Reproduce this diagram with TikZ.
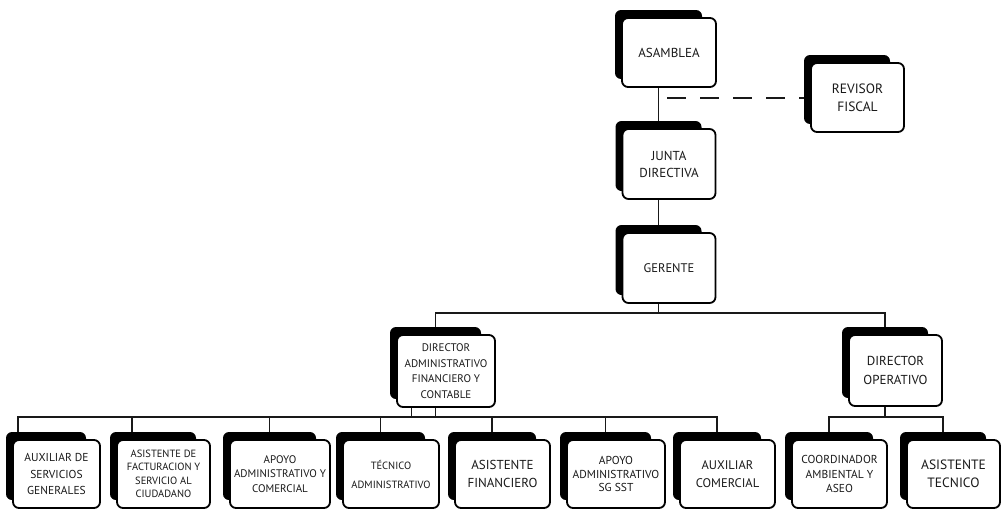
\documentclass[tikz,border=0pt]{standalone}
\usepackage{fontspec}
\setmainfont{PT Sans}
\usetikzlibrary{backgrounds}
\tikzset{
  front/.style={draw=black, line width=1.8pt, fill=white, rounded corners=6pt,
    align=center, inner sep=1pt, text=black!90},
  shade/.style={fill=black, rounded corners=6pt, draw=none, inner sep=0pt},
  link/.style={line width=1.6pt, draw=black!90},
  dashlink/.style={link, dash pattern=on 19pt off 14pt},
}
% name, cx, cy, w, h, font, text
\newcommand\orgbox[7]{%
  \node[shade, minimum width=#4pt-7pt, minimum height=#5pt] (#1s) at (#2-10.5,#3-8) {};
  \node[front, minimum width=#4pt, minimum height=#5pt, font={#6}] (#1) at (#2,#3) {#7};
}
\newcommand\fsz[2]{\fontsize{#1pt}{#2pt}\selectfont}
\begin{document}
\begin{tikzpicture}[x=1pt,y=-1pt]
\useasboundingbox (0,0) rectangle (1003,509);
\orgbox{asam}{669}{52.5}{94}{69}{\fsz{13}{15}}{ASAMBLEA}
\orgbox{rev}{857.5}{97.5}{93}{69}{\fsz{13.5}{18}}{REVISOR\\FISCAL}
\orgbox{junta}{669}{164}{93}{70}{\fsz{13}{17}}{JUNTA\\DIRECTIVA}
\orgbox{ger}{669}{268}{93}{70}{\fsz{12.5}{15}}{GERENTE}
\orgbox{da}{446}{371}{98}{72}{\fsz{11}{15.5}}{DIRECTOR\\ADMINISTRATIVO\\FINANCIERO Y\\CONTABLE}
\orgbox{do}{895.5}{370.5}{93}{71}{\fsz{13}{19}}{DIRECTOR\\OPERATIVO}
\orgbox{bA}{56.5}{474}{87}{68}{\fsz{11.5}{16.5}}{AUXILIAR DE\\SERVICIOS\\GENERALES}
\orgbox{bB}{163.5}{474}{93}{68}{\fsz{10.5}{13.5}}{ASISTENTE DE\\FACTURACION Y\\SERVICIO AL\\CIUDADANO}
\orgbox{bC}{280}{474}{100}{68}{\fsz{11}{14.5}}{APOYO\\ADMINISTRATIVO Y\\COMERCIAL}
\orgbox{bD}{391}{474}{96}{68}{\fsz{10.5}{19}}{TÉCNICO\\ADMINISTRATIVO}
\orgbox{bE}{502.5}{474}{95}{68}{\fsz{13}{18}}{ASISTENTE\\FINANCIERO}
\orgbox{bF}{616}{474}{98}{68}{\fsz{11.5}{13.5}}{APOYO\\ADMINISTRATIVO\\SG SST}
\orgbox{bG}{727.5}{474}{95}{68}{\fsz{12.5}{18}}{AUXILIAR\\COMERCIAL}
\orgbox{bH}{839.5}{474}{95}{68}{\fsz{11.5}{14.5}}{COORDINADOR\\AMBIENTAL Y\\ASEO}
\orgbox{bI}{953.5}{474}{93}{68}{\fsz{13.5}{18}}{ASISTENTE\\TECNICO}
\coordinate (dashstart) at (667,98);
\coordinate (gbar) at (0,313);
\coordinate (abar) at (0,417);
\begin{scope}[on background layer]
  \draw[link] (asams.south) -- (juntas.north);
  \draw[dashlink] (dashstart) -- (dashstart -| revs.west);
  \draw[link] (juntas.south) -- (gers.north);
  \draw[link] (gers.south) -- (gers.south |- gbar);
  \draw[link] (das.north) -- (das.north |- gbar) -- (dos.north |- gbar) -- (dos.north);
  \draw[link] (das.south) -- (das.south |- abar);
  \draw[link] ([xshift=-24pt]das.south) -- ([xshift=-24pt]das.south |- abar);
  \draw[link] ([xshift=-28pt]bAs.north) -- ([xshift=-28pt]bAs.north |- abar)
     -- (bGs.north |- abar) -- (bGs.north);
  \draw[link] ([xshift=-21pt]bBs.north) -- ([xshift=-21pt]bBs.north |- abar);
  \foreach \b in {bC,bD,bE,bF}
    \draw[link] (\b s.north) -- (\b s.north |- abar);
  \draw[link] (dos.south) -- (dos.south |- abar);
  \draw[link] (bHs.north) -- (bHs.north |- abar) -- (bIs.north |- abar) -- (bIs.north);
\end{scope}
\end{tikzpicture}
\end{document}
